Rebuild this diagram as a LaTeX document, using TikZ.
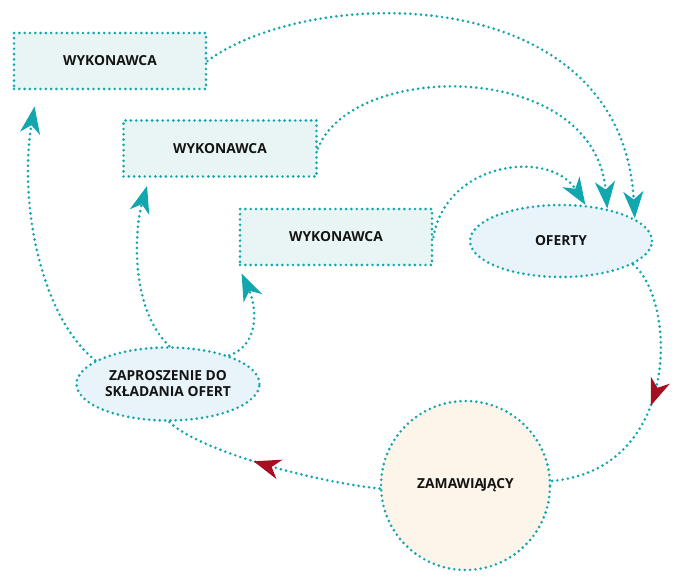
\documentclass[tikz,border=0pt]{standalone}
\usepackage{fontspec}
\setmainfont{Open Sans}
\usetikzlibrary{arrows.meta,shapes.geometric,decorations.markings}

\definecolor{linkteal}{RGB}{18,166,174}
\definecolor{arrowred}{RGB}{166,14,34}
\definecolor{boxfill}{RGB}{233,245,245}
\definecolor{ovalfill}{RGB}{233,244,250}
\definecolor{roundfill}{RGB}{253,245,233}

\tikzset{
  tealtip/.tip={Stealth[length=27pt,width=20pt,inset=8pt]},
  redtip/.tip={Stealth[length=27pt,width=20pt,inset=8pt,color=arrowred]},
}

\begin{document}
\begin{tikzpicture}[x=1pt,y=-1pt,
  dots/.style={draw=linkteal,line width=2.9pt,line cap=round,dash pattern=on 0pt off 5.3pt},
  label/.style={font=\fontsize{13.8}{16}\selectfont\bfseries,text=black!92,inner sep=0pt},
  boxnode/.style={dots,label,fill=boxfill,rectangle,minimum width=192pt,minimum height=56pt},
  ovalnode/.style={dots,label,fill=ovalfill,ellipse,minimum width=183pt,minimum height=73pt,align=center},
  roundnode/.style={dots,label,fill=roundfill,circle,minimum size=169pt},
  link/.style={dots,-tealtip},
  redlink/.style={dots,postaction={decorate},
    decoration={markings,mark=at position #1 with {\arrow{redtip}}}},
]
\useasboundingbox (0,0) rectangle (683,583);

% contractors, offers, invitation and the ordering party
\node[boxnode] (w1) at (110,61) {WYKONAWCA};
\node[boxnode,minimum width=193pt] (w2) at (220,148.5) {WYKONAWCA};
\node[boxnode] (w3) at (336,237) {WYKONAWCA};
\node[ovalnode,minimum width=182pt,minimum height=72pt] (of) at (561,241) {OFERTY};
\node[ovalnode] (zap) at (168,384) {ZAPROSZENIE DO\\SKŁADANIA OFERT};
\node[roundnode] (zam) at (465.5,485.5) {ZAMAWIA\kern-1.6ptJĄCY};

% each contractor sends an offer
\draw[link] (w1.east) .. controls +(102,-76) and +(-13,-240) .. (of.17);
\draw[link] (w2.east) .. controls +(34,-88) and +(-13,-150) .. (of.35);
\draw[link] (w3.east) .. controls +(13,-76) and +(-35,-56) .. (of.56);

% offers reach the ordering party, which issues the invitation
\draw[redlink=0.53] (of.-18) .. controls +(44,36) and +(130,-11) .. (zam.3);
\draw[redlink=0.58] (zam.182) .. controls +(-61,-6) and +(31,30) .. (zap.-88);

% the invitation goes out to the contractors
\draw[link] (zap.162) .. controls +(-55,-44) and +(-16,95) .. ([shift={(22,16)}]w1.south west);
\draw[link] (zap.88) .. controls +(-39,-37) and +(-13,45) .. ([shift={(25,8)}]w2.south west);
\draw[link] (zap.25) .. controls +(31,-11) and +(15,33) .. ([shift={(3,7)}]w3.south west);
\end{tikzpicture}
\end{document}
